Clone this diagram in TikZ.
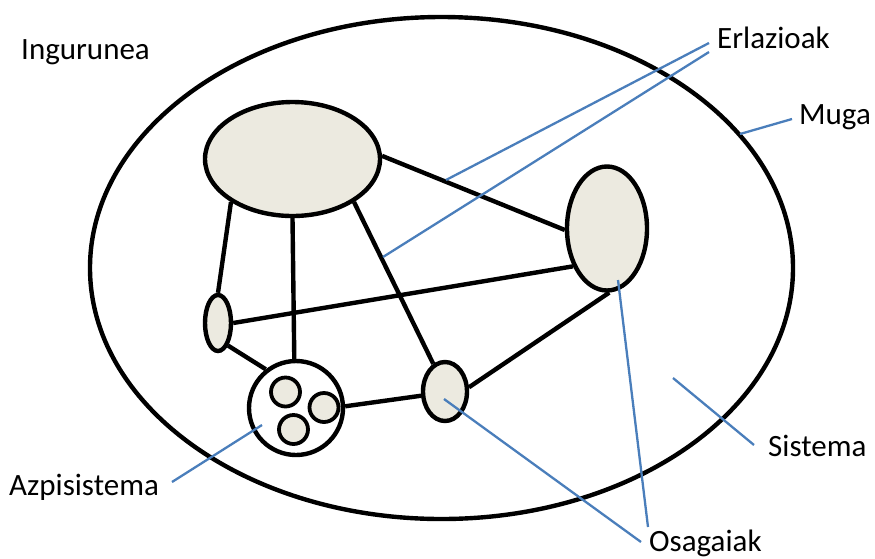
\documentclass[tikz,border=0pt]{standalone}
\usepackage{fontspec}
\setmainfont{Carlito}
\usetikzlibrary{shapes.geometric}
\definecolor{partfill}{RGB}{236,234,224}
\definecolor{callout}{RGB}{74,126,187}
\tikzset{
  part/.style={ellipse, draw=black, line width=4.4pt, fill=partfill, inner sep=0pt},
  subsys/.style={circle, draw=black, line width=4.4pt, fill=white, inner sep=0pt, minimum size=94pt},
  link/.style={draw=black, line width=4.4pt},
  lead/.style={draw=callout, line width=2.3pt},
  lbl/.style={anchor=base west, inner sep=0pt, font=\fontsize{31}{37}\selectfont}
}
\begin{document}
\begin{tikzpicture}[x=1pt,y=-1pt]
\useasboundingbox (0,0) rectangle (875,558);
% system boundary
\draw[line width=4.4pt] (441.5,268) ellipse [x radius=351.5, y radius=251];
\coordinate (mugapt) at (740,134);
% components
\node[part, minimum width=175pt, minimum height=114pt] (top) at (292.5,159) {};
\node[part, minimum width=80pt, minimum height=124pt] (right) at (607,228.5) {};
\node[part, minimum width=26pt, minimum height=56pt] (left) at (218,323) {};
\node[part, minimum width=44pt, minimum height=59pt] (bot) at (445,391.5) {};
\node[subsys] (sub) at (296,408) {};
\node[part, circle, minimum size=29pt, line width=3.8pt] (c1) at (285.5,392) {};
\node[part, circle, minimum size=29pt, line width=3.8pt] (c2) at (324,407.5) {};
\node[part, circle, minimum size=29pt, line width=3.8pt] (c3) at (293.5,429.5) {};
% relations
\draw[link] (top.2) -- (right.182);
\draw[link] (top.215) -- (left.90);
\draw[link] (top.270) -- (sub.92);
\draw[link] (top.325) -- (bot.113);
\draw[link] (left.0) -- (right.228);
\draw[link] (left.294) -- (sub.128);
\draw[link] (sub.2) -- (bot.190);
\draw[link] (bot.10) -- (right.272);
% labels
\node[lbl] (ing) at (21,59) {Ingurunea};
\node[lbl] (erl) at (717,48) {Erlazioak};
\node[lbl] (muga) at (799,124) {Muga};
\node[lbl] (sis) at (768,456) {Sistema};
\node[lbl] (osa) at (649,551) {Osagaiak};
\node[lbl] (azp) at (9,495) {Azpisistema};
% leader lines
\coordinate (e1) at (709,43);
\coordinate (e2) at (709,52);
\coordinate (r1) at (446,180);
\coordinate (r2) at (383,257);
\draw[lead] (e1) -- (r1);
\draw[lead] (e2) -- (r2);
\coordinate (m1) at (792,119);
\draw[lead] (m1) -- (mugapt);
\coordinate (s1) at (754,445);
\coordinate (s2) at (673,378);
\draw[lead] (s1) -- (s2);
\coordinate (o1) at (648,527);
\coordinate (o2) at (641,542);
\coordinate (o3) at (618,280);
\coordinate (o4) at (444,399);
\draw[lead] (o1) -- (o3);
\draw[lead] (o2) -- (o4);
\coordinate (a1) at (172,482);
\coordinate (a2) at (262,425);
\draw[lead] (a1) -- (a2);
\end{tikzpicture}
\end{document}
